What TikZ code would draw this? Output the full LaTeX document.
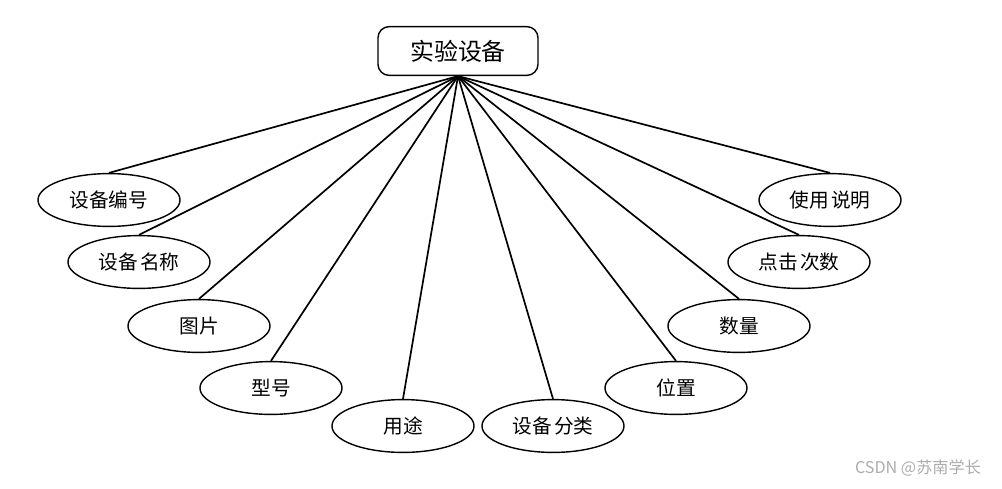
\documentclass[tikz,border=0pt]{standalone}
\usepackage{fontspec}
\setmainfont{Noto Sans CJK SC}
\usepackage{tikz}
\usetikzlibrary{shapes.geometric}

\begin{document}
\begin{tikzpicture}[
    x=0.025cm, y=-0.025cm,
    % ── Node styles ──
    entity/.style = {rectangle, rounded corners=8pt,
                     draw=black, line width=1pt,
                     minimum width=4.0cm, minimum height=1.22cm,
                     font=\fontsize{17}{20}\selectfont, align=center},
    attr/.style   = {ellipse, draw=black, line width=1pt, inner sep=0pt,
                     minimum width=3.55cm, minimum height=1.32cm,
                     font=\fontsize{14}{17}\selectfont, align=center},
    link/.style   = {line width=1.2pt, black},
    wmark/.style  = {font=\fontsize{11.5}{14}\selectfont, text=gray!65},
]
\useasboundingbox (0,0) rectangle (1002,488);

% =====================================================================
%  ENTITY
% =====================================================================
\node[entity] (sbei) at (458,51) {实验设备};

% =====================================================================
%  ATTRIBUTES: left arc -> right arc
% =====================================================================
\node[attr] (bianhao) at (109,200) {设备编号};
\node[attr] (mingcheng) at (139,262) {设备\hspace{0.12em}名称};
\node[attr] (tupian) at (199,326) {图片};
\node[attr] (xinghao) at (271,388) {型号};
\node[attr] (yongtu) at (403,426) {用途};
\node[attr] (fenlei) at (553,426) {设备\hspace{0.12em}分类};
\node[attr] (weizhi) at (676,388) {位置};
\node[attr] (shuliang) at (739,326) {数量};
\node[attr] (cishu) at (799,262) {点击\hspace{0.12em}次数};
\node[attr] (shuoming) at (830,200) {使用\hspace{0.12em}说明};

% ── all links leave from the bottom of the entity
\draw[link] (sbei.south) -- (bianhao.north);
\draw[link] (sbei.south) -- (mingcheng.north);
\draw[link] (sbei.south) -- (tupian.north);
\draw[link] (sbei.south) -- (xinghao.north);
\draw[link] (sbei.south) -- (yongtu.north);
\draw[link] (sbei.south) -- (fenlei.north);
\draw[link] (sbei.south) -- (weizhi.north);
\draw[link] (sbei.south) -- (shuliang.north);
\draw[link] (sbei.south) -- (cishu.north);
\draw[link] (sbei.south) -- (shuoming.north);

% =====================================================================
%  WATERMARK
% =====================================================================
\node[wmark] (wm) at (918,468) {CSDN @苏南学长};

\end{tikzpicture}
\end{document}
